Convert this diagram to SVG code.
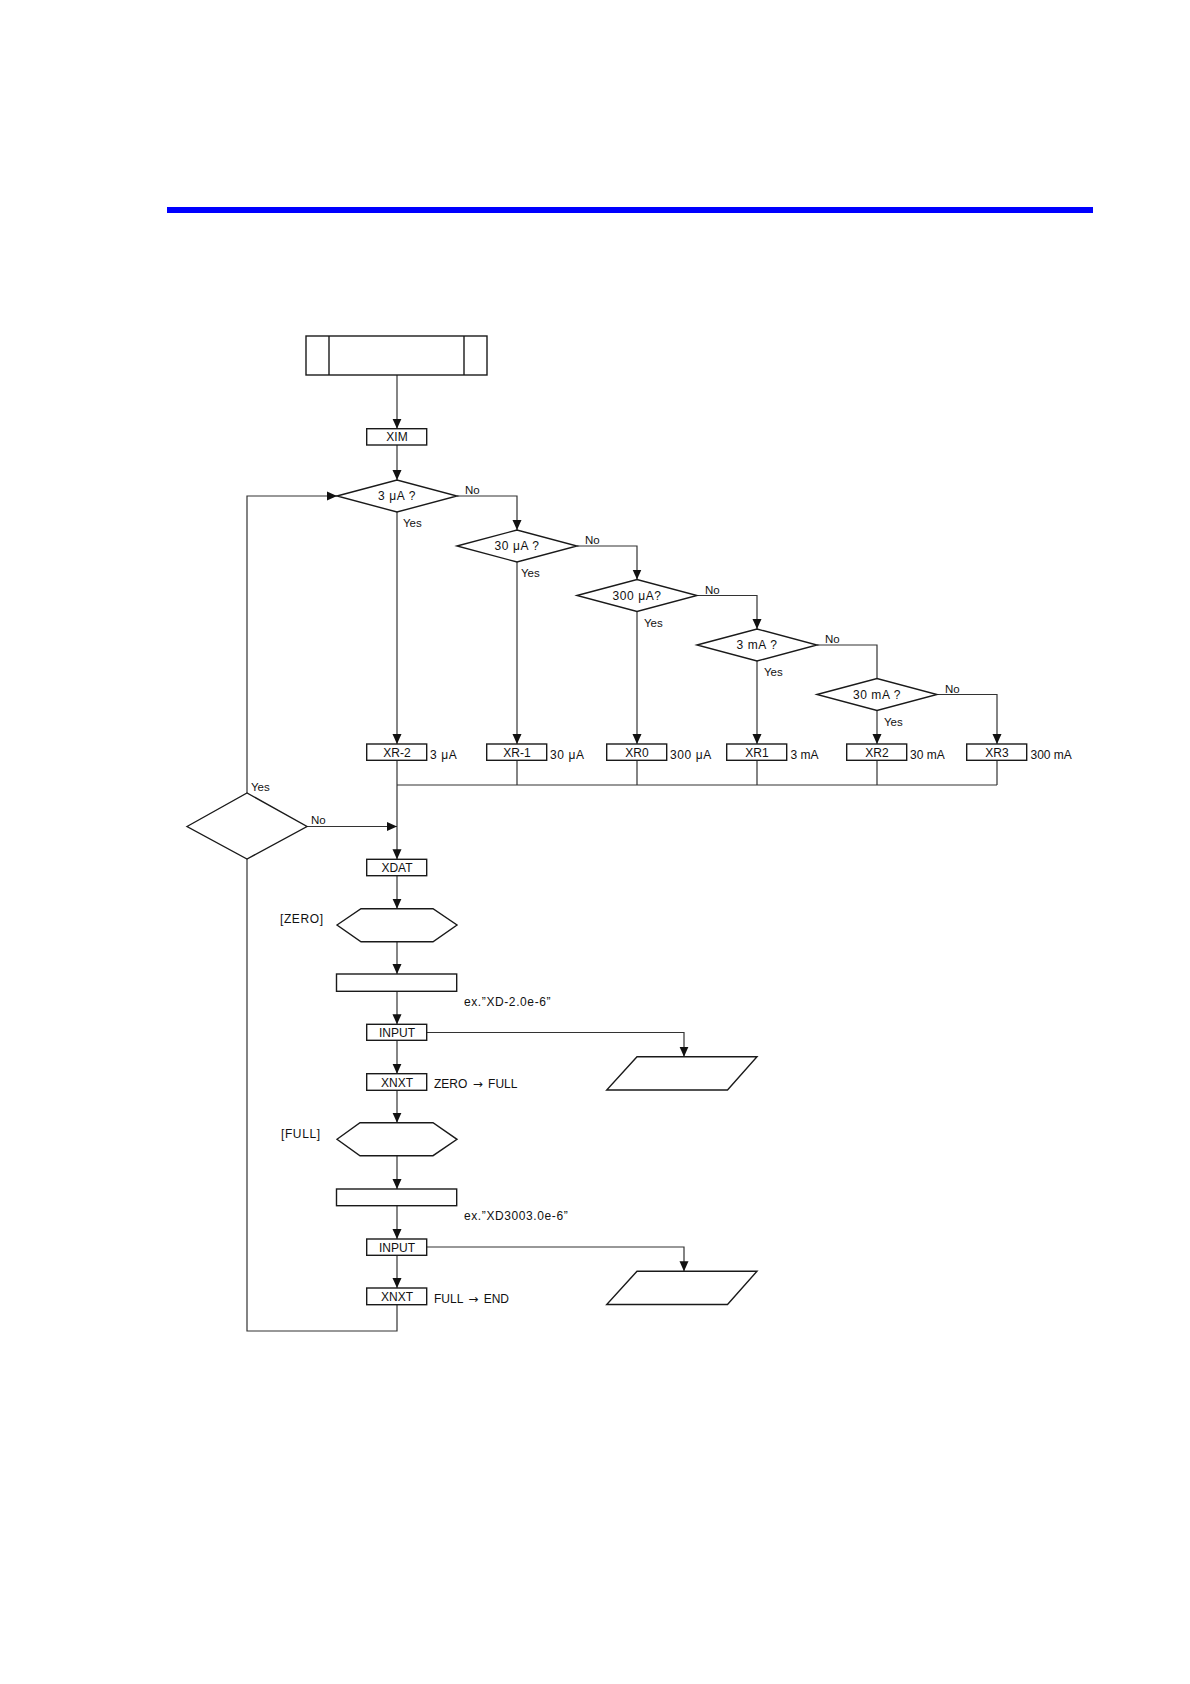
<svg xmlns="http://www.w3.org/2000/svg" width="1190" height="1684" viewBox="0 0 1190 1684">
<style>
.s{fill:#fff;stroke:#1a1a1a;stroke-width:1.4}
.ln{fill:none;stroke:#333;stroke-width:1.2}
.ar{fill:none;stroke:#333;stroke-width:1.2;marker-end:url(#ah)}
text{font-family:"Liberation Sans",Arial,sans-serif;font-size:12px;fill:#111}
.c{text-anchor:middle}
.sm{font-size:11.5px}
.dt{letter-spacing:0.6px}
.arw{font-family:"DejaVu Sans",sans-serif;font-size:12px}
</style>
<defs>
<marker id="ah" markerUnits="userSpaceOnUse" markerWidth="10" markerHeight="10" viewBox="0 0 10 10" refX="10" refY="5" orient="auto">
<path d="M0,0.5 L10,5 L0,9.5 Z" fill="#111"/>
</marker>
</defs>
<rect x="167" y="207" width="926" height="6" fill="#0000ff"/>

<g id="connectors">
<path class="ar" d="M397,375 V428.7"/>
<path class="ar" d="M397,445 V480"/>
<path class="ar" d="M457,496 H517 V530"/>
<path class="ar" d="M577,546 H637 V579.5"/>
<path class="ar" d="M697,595.5 H757 V629"/>
<path class="ln" d="M817,645 H877 V678.5"/>
<path class="ar" d="M937,694.5 H997 V744"/>
<path class="ar" d="M397,512 V744"/>
<path class="ar" d="M517,562 V744"/>
<path class="ar" d="M637,611.5 V744"/>
<path class="ar" d="M757,661 V744"/>
<path class="ar" d="M877,710.5 V744"/>
<path class="ln" d="M517,760.3 V785 M637,760.3 V785 M757,760.3 V785 M877,760.3 V785 M997,760.3 V785 M397,785 H997"/>
<path class="ar" d="M397,760.3 V859.3"/>
<path class="ar" d="M307,826.5 H397"/>
<path class="ar" d="M247,793 V496 H337"/>
<path class="ln" d="M397,1304.7 V1331 H247 V859"/>
<path class="ar" d="M397,875.7 V908.7"/>
<path class="ar" d="M397,941.7 V974"/>
<path class="ar" d="M397,991.3 V1024.3"/>
<path class="ar" d="M426.7,1032.5 H684 V1056.7"/>
<path class="ar" d="M397,1040.3 V1073.7"/>
<path class="ar" d="M397,1090.3 V1122.7"/>
<path class="ar" d="M397,1155.7 V1189"/>
<path class="ar" d="M397,1205.7 V1239"/>
<path class="ar" d="M426.7,1247 H684 V1271.3"/>
<path class="ar" d="M397,1255.3 V1288"/>
</g>

<g id="start">
<rect class="s" x="306" y="336" width="181" height="39"/>
<path d="M329,336 V375 M464,336 V375" fill="none" stroke="#1a1a1a" stroke-width="1.4"/>
</g>
<g id="xim"><rect class="s" x="366.7" y="428.7" width="60" height="16.3"/><text class="c" x="397" y="441.3">XIM</text></g>

<g id="d3ua"><polygon class="s" points="337,496 397,480 457,496 397,512"/><text class="c dt" x="397" y="500">3 μA ?</text>
<text x="465" y="494" class="sm">No</text><text x="403" y="527" class="sm">Yes</text></g>
<g id="d30ua"><polygon class="s" points="457,546 517,530 577,546 517,562"/><text class="c dt" x="517" y="550">30 μA ?</text>
<text x="585" y="544" class="sm">No</text><text x="521" y="577" class="sm">Yes</text></g>
<g id="d300ua"><polygon class="s" points="577,595.5 637,579.5 697,595.5 637,611.5"/><text class="c dt" x="637" y="599.5">300 μA?</text>
<text x="705" y="593.5" class="sm">No</text><text x="644" y="626.5" class="sm">Yes</text></g>
<g id="d3ma"><polygon class="s" points="697,645 757,629 817,645 757,661"/><text class="c dt" x="757" y="649">3 mA ?</text>
<text x="825" y="643" class="sm">No</text><text x="764" y="676" class="sm">Yes</text></g>
<g id="d30ma"><polygon class="s" points="817,694.5 877,678.5 937,694.5 877,710.5"/><text class="c dt" x="877" y="698.5">30 mA ?</text>
<text x="945" y="692.5" class="sm">No</text><text x="884" y="725.5" class="sm">Yes</text></g>

<g id="xrm2"><rect class="s" x="366.7" y="744" width="60" height="16.3"/><text class="c" x="397" y="756.5">XR-2</text><text x="430" y="759" class="dt">3 μA</text></g>
<g id="xrm1"><rect class="s" x="486.7" y="744" width="60" height="16.3"/><text class="c" x="517" y="756.5">XR-1</text><text x="550" y="759" class="dt">30 μA</text></g>
<g id="xr0"><rect class="s" x="606.7" y="744" width="60" height="16.3"/><text class="c" x="637" y="756.5">XR0</text><text x="670" y="759" class="dt">300 μA</text></g>
<g id="xr1"><rect class="s" x="726.7" y="744" width="60" height="16.3"/><text class="c" x="757" y="756.5">XR1</text><text x="790.5" y="759">3 mA</text></g>
<g id="xr2"><rect class="s" x="846.7" y="744" width="60" height="16.3"/><text class="c" x="877" y="756.5">XR2</text><text x="910" y="759">30 mA</text></g>
<g id="xr3"><rect class="s" x="966.7" y="744" width="60" height="16.3"/><text class="c" x="997" y="756.5">XR3</text><text x="1030.5" y="759">300 mA</text></g>

<g id="dloop"><polygon class="s" points="187,826.5 247,793 307,826.5 247,859"/>
<text x="251" y="791" class="sm">Yes</text><text x="311" y="823.5" class="sm">No</text></g>

<g id="xdat"><rect class="s" x="366.7" y="859.3" width="60" height="16.4"/><text class="c" x="397" y="872">XDAT</text></g>
<g id="hzero"><polygon class="s" points="337,925 361,908.7 433,908.7 457,925 433,941.7 361,941.7"/><text x="280" y="923" class="dt">[ZERO]</text></g>
<g id="rzero"><rect class="s" x="336.5" y="974" width="120.2" height="17.3"/><text x="464" y="1005.5" class="dt">ex.”XD-2.0e-6”</text></g>
<g id="input1"><rect class="s" x="366.7" y="1024.3" width="60" height="16"/><text class="c" x="397" y="1036.7">INPUT</text></g>
<g id="out1"><polygon class="s" points="637,1056.7 757,1056.7 727.5,1090 606.7,1090"/></g>
<g id="xnxt1"><rect class="s" x="366.7" y="1073.7" width="60" height="16.6"/><text class="c" x="397" y="1086.5">XNXT</text><text x="434" y="1087.5">ZERO <tspan class="arw" dx="2">→</tspan><tspan dx="2"> FULL</tspan></text></g>
<g id="hfull"><polygon class="s" points="337,1139.3 360,1122.7 433,1122.7 457,1139.3 433,1155.7 360,1155.7"/><text x="281" y="1138" class="dt">[FULL]</text></g>
<g id="rfull"><rect class="s" x="336.5" y="1189" width="120.2" height="16.7"/><text x="464" y="1220" class="dt">ex.”XD3003.0e-6”</text></g>
<g id="input2"><rect class="s" x="366.7" y="1239" width="60" height="16.3"/><text class="c" x="397" y="1251.5">INPUT</text></g>
<g id="out2"><polygon class="s" points="637,1271.3 757,1271.3 727.5,1304.5 606.7,1304.5"/></g>
<g id="xnxt2"><rect class="s" x="366.7" y="1288" width="60" height="16.7"/><text class="c" x="397" y="1301">XNXT</text><text x="434" y="1302.5">FULL <tspan class="arw" dx="2">→</tspan><tspan dx="2"> END</tspan></text></g>
</svg>
